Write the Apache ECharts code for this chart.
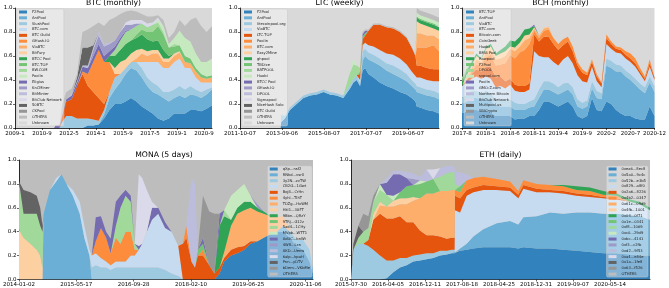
<!DOCTYPE html>
<html>
<head>
<meta charset="utf-8">
<title>Mining pool shares</title>
<script src="https://cdn.jsdelivr.net/npm/echarts@6.0.0/dist/echarts.min.js"></script>
<style>
html, body { margin: 0; padding: 0; background: #fff; }
#main { width: 669px; height: 288px; }
</style>
</head>
<body>
<div id="main"></div>
<script>
// tab20c, one colour per legend slot (last slot = the layer that fills up to 1.0)
var tab20c = ['#3182bd', '#6baed6', '#9ecae1', '#c6dbef', '#e6550d', '#fd8d3c', '#fdae6b', '#fdd0a2',
	'#31a354', '#74c476', '#a1d99b', '#c7e9c0', '#756bb1', '#9e9ac8', '#bcbddc', '#dadaeb',
	'#636363', '#969696', '#bdbdbd', '#d9d9d9'];

// ---------------- BTC (monthly) : x = months since 2009-1 ----------------
var btcTicks = ['2009-1', '2010-9', '2012-5', '2014-1', '2015-9', '2017-5', '2019-1', '2020-9'];
var btcX = [0, 29, 30, 33, 35, 38, 42, 46, 50, 54, 58, 62, 66, 70, 74, 78, 82, 86, 90, 94, 98, 102, 106, 110, 114, 118, 122, 126, 130, 134, 138, 142, 146];
var btcNames = ['F2Pool', 'AntPool', 'SlushPool', 'BTC.com', 'BTC Guild', 'GHash.IO', 'ViaBTC', 'BitFury', 'BTCC Pool', 'BTC.TOP',
	'BW.COM', 'Poolin', 'Eligius', 'KnCMiner', 'BitMinter', 'BitClub Network', '50BTC', 'CKPool', 'OTHERS', 'Unknown'];
var btcShares = [
	[[54,.02],[58,.02],[62,.03],[66,.08],[70,.15],[74,.2],[78,.2],[82,.22],[86,.25],[90,.22],[94,.18],[98,.15],[102,.12],[106,.08],[110,.06],[114,.08],[118,.12],[122,.12],[126,.12],[130,.15],[134,.15],[138,.14],[142,.16],[146,.19]],
	[[66,.03],[70,.1],[74,.12],[78,.18],[82,.23],[86,.25],[90,.26],[94,.24],[98,.2],[102,.18],[106,.2],[110,.19],[114,.14],[118,.13],[122,.15],[126,.13],[130,.13],[134,.12],[138,.11],[142,.12],[146,.13]],
	[[35,.05],[38,.1],[42,.1],[46,.08],[50,.08],[54,.06],[58,.05],[62,.03],[66,.04],[70,.05],[74,.1],[78,.07],[82,.05],[86,.05],[90,.07],[94,.08],[98,.07],[102,.08],[106,.07],[110,.05],[114,.08],[118,.07],[122,.08],[126,.07],[130,.07],[134,.05],[138,.05],[142,.04],[146,.02]],
	[[94,.05],[98,.13],[102,.17],[106,.2],[110,.2],[114,.2],[118,.23],[122,.23],[126,.18],[130,.15],[134,.1],[138,.08],[142,.06],[146,.04]],
	[[35,.05],[38,.12],[42,.14],[46,.27],[50,.37],[54,.27],[58,.23],[62,.19],[66,.05]],
	[[50,.02],[54,.1],[58,.25],[62,.4],[66,.35],[70,.25],[74,.03]],
	[[90,.03],[94,.07],[98,.05],[102,.07],[106,.07],[110,.05],[114,.05],[118,.05],[122,.05],[126,.05],[130,.04],[134,.05],[138,.04],[142,.03],[146,.04]],
	[[74,.05],[78,.1],[82,.07],[86,.07],[90,.07],[94,.04],[98,.04],[102,.03],[106,.03],[110,.03],[114,.03],[118,.02],[122,.01]],
	[[70,.05],[74,.1],[78,.1],[82,.13],[86,.11],[90,.1],[94,.12],[98,.1],[102,.07],[106,.08],[110,.07],[114,.02]],
	[[90,.03],[94,.04],[98,.06],[102,.08],[106,.12],[110,.13],[114,.07],[118,.06],[122,.05],[126,.05],[130,.04],[134,.03],[138,.03],[142,.02],[146,.02]],
	[[74,.05],[78,.08],[82,.1],[86,.09],[90,.07],[94,.05],[98,.04],[102,.06],[106,.03],[110,.02],[118,.02]],
	[[106,.02],[110,.05],[114,.03],[118,.05],[122,.12],[126,.15],[130,.14],[134,.12],[138,.1],[142,.12],[146,.14]],
	[[30,.02],[33,.02],[35,.01],[38,.02],[42,.03],[46,.03],[50,.04],[54,.05],[58,.05],[62,.05],[66,.05],[70,.04],[74,.03],[78,.02],[82,.01]],
	[[58,.05],[62,.07],[66,.08],[70,.06],[74,.05],[78,.05],[82,.05],[86,.04],[90,.02]],
	[[42,.01],[46,.01],[50,.01],[54,.02],[58,.02],[62,.03],[66,.02],[70,.01]],
	[[82,.02],[86,.04],[90,.03],[94,.03],[98,.03],[102,.02],[106,.02]],
	[[46,.03],[50,.15],[54,.15],[58,.02]],
	[],
	[[35,.09],[38,.06],[42,.05],[46,.03],[50,.13],[54,.15],[58,.16],[62,.08],[66,.15],[70,.19],[74,.19],[78,.15],[82,.09],[86,.08],[90,.07],[94,.05],[98,.06],[102,.05],[106,.02],[110,.05],[114,.05],[118,.05],[122,.09],[126,.1],[130,.18],[134,.3],[138,.3],[142,.25],[146,.27]],
	[]
];

// ---------------- LTC (weekly) : x = weeks since 2011-10-07 ----------------
var ltcTicks = ['2011-10-07', '2013-09-06', '2015-08-07', '2017-07-07', '2019-06-07'];
var ltcX = [0, 97, 98, 107, 119, 135, 151, 167, 183, 199, 214, 230, 246, 262, 270, 278, 286, 292, 298, 306, 318, 333, 349, 365, 381, 397, 409, 418, 421, 429, 445, 461, 474];
var ltcNames = ['F2Pool', 'AntPool', 'litecoinpool.org', 'ViaBTC', 'LTC.TOP', 'Poolin', 'BTC.com', 'Easy2Mine', 'ghpool', 'TBDice',
	'BATPOOL', 'Huobi', 'BTCC Pool', 'GHash.IO', 'DPOOL', 'Sigmapool', 'NiceHash Solo', 'BTC Guild', 'OTHERS', 'Unknown'];
var ltcShares = [
	[[98,.05],[107,.08],[119,.15],[135,.2],[151,.25],[167,.27],[183,.28],[199,.3],[214,.28],[230,.27],[246,.25],[262,.33],[270,.38],[278,.4],[286,.35],[292,.48],[298,.5],[306,.45],[318,.42],[333,.38],[349,.35],[365,.33],[381,.3],[397,.28],[409,.25],[418,.22],[421,.18],[429,.17],[445,.15],[461,.14],[474,.12]],
	[[292,.08],[298,.1],[306,.12],[318,.13],[333,.14],[349,.13],[365,.12],[381,.12],[397,.11],[409,.1],[418,.1],[421,.12],[429,.12],[445,.12],[461,.12],[474,.12]],
	[[98,.06],[107,.02],[119,.02],[135,.02],[151,.02],[167,.02],[183,.02],[199,.02],[214,.02],[230,.02],[246,.02],[262,.03],[270,.03],[278,.04],[286,.03],[292,.08],[298,.06],[306,.06],[318,.06],[333,.06],[349,.06],[365,.07],[381,.07],[397,.06],[409,.05],[418,.05],[421,.05],[429,.05],[445,.05],[461,.05],[474,.05]],
	[[286,.02],[292,.05],[298,.05],[306,.06],[318,.07],[333,.07],[349,.08],[365,.09],[381,.09],[397,.08],[409,.07],[418,.05],[421,.07],[429,.08],[445,.08],[461,.08],[474,.1]],
	[[286,.05],[292,.05],[298,.06],[306,.12],[318,.18],[333,.21],[349,.22],[365,.22],[381,.22],[397,.22],[409,.2],[418,.18],[421,.1],[429,.1],[445,.1],[461,.1],[474,.1]],
	[[421,.15],[429,.15],[445,.17],[461,.2],[474,.15]],
	[[421,.12],[429,.12],[445,.1],[461,.08],[474,.1]],
	[[421,.1],[429,.08],[445,.08],[461,.06],[474,.07]],
	[[421,.03],[429,.03],[445,.03],[461,.03],[474,.03]],
	[[286,.02],[292,.02],[298,.02],[421,.01],[429,.01],[445,.01],[461,.01],[474,.01]],
	[[262,.1],[270,.12],[278,.08],[286,.03]],
	[[270,.05],[421,.03],[429,.03],[445,.03],[461,.03],[474,.03]],
	[[292,.02],[298,.02]],
	[[292,.01]],
	[], [], [], [],
	[[292,.01],[298,.01],[306,.01],[318,.01],[333,.01],[349,.01],[365,.01],[381,.01],[397,.01],[409,.01],[418,.01],[421,.04],[429,.04],[445,.04],[461,.04],[474,.04]],
	[]
];

// ---------------- BCH (monthly) : x = months since 2017-8 ----------------
var bchTicks = ['2017-8', '2018-1', '2018-6', '2018-11', '2019-4', '2019-9', '2020-2', '2020-7', '2020-12'];
var bchX = [0, 1, 2, 3, 4, 5, 6, 7, 8, 9, 10, 11, 12, 13, 14, 15, 16, 17, 18, 19, 20, 21, 22, 23, 24, 25, 26, 27, 28, 29, 30, 31, 32, 33, 34, 35, 36, 37, 38, 39, 40];
var bchNames = ['BTC.TOP', 'AntPool', 'ViaBTC', 'BTC.com', 'Bitcoin.com', 'CoinGeek', 'Huobi', 'BMG Pool', 'Rawpool', 'F2Pool',
	'DPOOL', 'svpool.com', 'Poolin', 'GMO-Z.com', 'Northern Bitcoin', 'BitClub Network', 'Multipool.us', 'SBICrypto', 'OTHERS', 'Unknown'];
var bchShares = [
	[.12,.14,.15,.15,.14,.15,.13,.10,.10,.10,.10,.07,.08,.08,.10,.10,.15,.22,.22,.20,.18,.20,.22,.18,.10,.08,.10,.25,.15,.14,.22,.20,.15,.12,.10,.10,.08,.07,.07,.18,.10],
	[.08,.08,.10,.10,.10,.10,.10,.09,.08,.08,.08,.08,.07,.07,.07,.08,.10,.10,.10,.10,.10,.10,.10,.10,.08,.08,.08,.08,.10,.10,.30,.30,.32,.35,.33,.30,.28,.25,.22,.20,.20],
	[.05,.06,.06,.06,.05,.06,.06,.05,.05,.05,.06,.06,.05,.05,.05,.06,.07,.07,.07,.07,.06,.07,.06,.06,.06,.05,.05,.06,.06,.05,.06,.06,.06,.05,.05,.05,.05,.05,.05,.05,.05],
	[.10,.10,.10,.12,.12,.12,.12,.10,.12,.10,.12,.10,.10,.10,.10,.40,.28,.20,.20,.18,.18,.20,.22,.20,.20,.18,.15,.12,.08,.05,.12,.10,.10,.10,.10,.10,.10,.08,.05,.08,.05],
	[0,.02,.04,.06,.06,.08,.10,.08,.08,.06,.05,.05,.05,.05,.05,.14,.12,.17,.17,.15,.13,.12,.12,.10,.08,.07,.06,.04,.04,.03,.05,.04,.03,.03,.03,.03,.03,.02,.02,.03,.02],
	[0,0,.02,.04,.05,.08,.10,.10,.10,.15,.20,.22,.28,.30,.33,.03,.03,.05,.06,.05,.05,.05,.04,.04,.03,.03,.02,.02,.02,.01,.03,.02,.02,.02,.03,.04,.04,.03,.02,.03,0],
	[[1,.02],[2,.03],[3,.04],[4,.03],[5,.04],[6,.04],[7,.05],[8,.05],[9,.06],[10,.05],[11,.06],[12,.05],[13,.08],[14,.05],[15,.02],[16,.02],[17,.02],[18,.02]],
	[[1,.02],[2,.02],[3,.03],[4,.02],[5,.03],[6,.03],[7,.03],[8,.04],[9,.04],[10,.02],[11,.03],[12,.03],[13,.04],[14,.03],[15,.01],[17,.01]],
	[[0,.03],[1,.04],[2,.03],[3,.02],[4,.01],[5,.02],[6,.02],[7,.02],[8,.03],[9,.04],[10,.05],[11,.05],[12,.05],[13,.05],[14,.05],[15,.01]],
	[[0,.02],[1,.01]],
	[[0,.02],[1,.01]],
	[],
	[[15,.01]],
	[], [], [], [], [], [], []
];

// ---------------- MONA (5 days) : x = 5-day steps since 2014-01-02 ----------------
var monaTicks = ['2014-01-02', '2015-05-17', '2016-09-28', '2018-02-10', '2019-06-25', '2020-11-06'];
var monaX = [0, 8, 20, 31, 37, 41, 43, 54, 65, 74, 83, 94, 106, 114, 123, 127, 134, 143, 152, 160, 169, 177, 186, 195, 202, 209, 215, 223, 232, 243,
	255, 266, 278, 286, 292, 301, 307, 312, 321, 332, 341, 350, 358, 370, 381, 393, 404, 416, 427, 439, 450, 461, 473, 484, 496, 507, 513];
var monaNames = ['qXp...nsf2', 'RNkd...vsrX', '3y2N...zvTW', 'CB2G...1Gwt', 'Bqj4...CrHn', '4yhl...TIhT', 'TDZg...HxWM', 'Hkl1...3AFT',
	'9Bbn...QRzY', '9TRj...G12z', '5ad4...1CHy', 'MVpb...WTT1', 'AdUC...bnWt', '4W8...Lxn', 'AKD...Uenw', '6alp...kpaH',
	'Pnn...yDTV', 'bDem...VKbMe', 'OTHERS'];
var monaShares = [
	[[350,.05],[358,.15],[370,.2],[381,.22],[393,.25],[404,.3],[416,.32],[427,.35],[439,.38],[450,.4],[461,.4],[473,.35],[484,.28],[496,.25],[507,.15],[513,.05]],
	[[43,.55],[54,.75],[65,.82],[74,.88],[83,.8],[94,.7],[106,.55],[114,.35],[123,.2],[461,.05],[473,.05],[484,.05],[496,.08],[507,.1],[513,.03]],
	[[127,.1],[134,.12],[143,.1],[152,.1],[160,.08],[169,.1],[177,.1],[186,.1],[195,.1],[202,.1],[209,.1],[215,.1],[223,.1],[232,.1],[243,.1],[255,.08],[266,.05],[278,.03]],
	[[65,.03],[94,.05],[106,.1],[114,.1],[123,.05],[127,.1],[134,.1],[143,.08],[152,.05],[160,.04],[169,.05],[177,.05],[186,.05],[195,.1],[202,.1],[209,.15],[215,.2],[223,.3],[232,.4],[243,.45],[255,.35],[266,.35],[278,.25]],
	[[286,.3],[292,.35],[301,.15],[307,.1],[312,.2],[321,.2],[332,.12],[341,.05],[350,.05],[358,.03],[370,.05],[381,.05],[393,.03],[404,.02]],
	[[134,.1],[143,.25],[152,.2],[160,.1],[169,.2],[177,.15],[186,.25],[195,.2],[202,.05],[292,.1],[321,.05]],
	[[358,.05],[370,.2],[381,.28],[393,.3],[404,.28],[416,.25],[427,.2],[439,.15],[450,.12],[461,.08]],
	[[0,.42],[8,.35],[20,.3],[31,.25],[37,.2],[41,.1]],
	[[350,.35],[358,.3],[370,.05],[381,.05],[393,.07],[404,.05],[416,.03],[427,.02]],
	[[312,.05],[321,.05]],
	[[0,.4],[8,.2],[20,.25],[31,.3],[37,.25],[41,.3],[169,.1],[177,.3],[186,.3],[195,.25],[202,.05],[358,.05]],
	[[370,.2],[381,.15],[393,.15],[404,.05]],
	[[134,.2],[143,.1],[152,.05],[160,.12],[169,.2],[177,.1],[186,.05],[195,.05],[209,.03],[232,.1],[243,.05],[255,.05],[321,.05],[350,.1]],
	[[416,.03]],
	[[301,.7],[307,.7]],
	[[209,.6],[215,.55],[223,.35],[232,.05]],
	[[8,.2],[20,.18],[31,.15],[37,.15],[41,.05]],
	[[321,.35],[332,.45],[341,.5]],
	[]
];

// ---------------- ETH (daily) : x = days since 2015-07-30 ----------------
var ethTicks = ['2015-07-30', '2016-04-05', '2016-12-11', '2017-08-18', '2018-04-25', '2018-12-31', '2019-09-07', '2020-05-14'];
var ethX = [0, 16, 50, 83, 117, 151, 196, 241, 286, 331, 376, 421, 466, 511, 556, 602, 647, 680, 700, 703, 737, 782, 827, 894, 985,
	1075, 1131, 1165, 1255, 1345, 1435, 1525, 1615, 1705, 1796, 1886, 1953, 2021];
var ethNames = ['0xea6...8ec8', '0x5a0...9c4c', '0x52b...e3b5', '0x829...a8f0', '0x2a6...8226', '0x4b2...0347', '0x61c...09d9', '0x4fb...1001',
	'0x04...0f71', '0x1e...0341', '0xf8...1069', '0xc0...29d9', '0xbc...4141', '0xf3...c2fb', '0xd2...9f53', '0xa4...e84e',
	'0x1a...1fe8', '0x63...f526', 'OTHERS'];
var ethShares = [
	[[241,.01],[286,.06],[331,.1],[376,.12],[421,.15],[466,.16],[511,.17],[556,.18],[602,.2],[647,.21],[680,.22],[700,.22],[703,.23],[737,.24],[782,.25],[827,.26],[894,.27],[985,.27],[1075,.27],[1131,.26],[1165,.27],[1255,.26],[1345,.26],[1435,.25],[1525,.24],[1615,.23],[1705,.22],[1796,.22],[1886,.21],[1953,.2],[2021,.2]],
	[[737,.02],[782,.05],[827,.1],[894,.15],[985,.2],[1075,.22],[1131,.2],[1165,.25],[1255,.27],[1345,.3],[1435,.3],[1525,.32],[1615,.33],[1705,.33],[1796,.33],[1886,.33],[1953,.33],[2021,.3]],
	[[16,.25],[50,.3],[83,.3],[117,.28],[151,.25],[196,.2],[241,.15],[286,.1],[331,.08],[376,.06],[421,.05],[466,.05],[511,.05],[556,.04],[602,.04],[647,.03],[680,.03],[700,.03]],
	[[703,.35],[737,.3],[782,.4],[827,.37],[894,.33],[985,.28],[1075,.25],[1131,.22],[1165,.24],[1255,.2],[1345,.17],[1435,.17],[1525,.14],[1615,.13],[1705,.13],[1796,.12],[1886,.11],[1953,.1],[2021,.08]],
	[[117,.05],[151,.25],[196,.35],[241,.35],[286,.35],[331,.35],[376,.3],[421,.28],[466,.2],[511,.15],[556,.15],[602,.12],[647,.1],[680,.1],[700,.1],[703,.12],[737,.12],[782,.05],[827,.04],[894,.04],[985,.03],[1075,.03],[1131,.03],[1165,.03],[1255,.03],[1345,.02],[1435,.02],[1525,.02],[1615,.02],[1705,.01],[1796,.01]],
	[[703,.05],[737,.05],[782,.08],[827,.08],[894,.07],[985,.06],[1075,.05],[1131,.03],[1165,.04],[1255,.04],[1345,.04],[1435,.04],[1525,.03],[1615,.03],[1705,.02],[1796,.02]],
	[[196,.07],[241,.1],[286,.1],[331,.1],[376,.15],[421,.18],[466,.27],[511,.35],[556,.35],[602,.38],[647,.4],[680,.4],[700,.4]],
	[[151,.05],[196,.03],[286,.05],[331,.05],[376,.05],[421,.03]],
	[[1435,.01],[1525,.03],[1615,.03],[1705,.03],[1796,.02],[1886,.02],[1953,.02],[2021,.02]],
	[[331,.05],[376,.1],[421,.1],[466,.12],[511,.1],[556,.12],[737,.05]],
	[[50,.05],[83,.1],[117,.1],[151,.1],[196,.1],[241,.1],[602,.12],[647,.15],[680,.15],[700,.15],[703,.05]],
	[[196,.05],[286,.04],[466,.03]],
	[[241,.1],[286,.18],[331,.15],[376,.07]],
	[[421,.05]],
	[[241,.04],[286,.03],[331,.03],[376,.05],[421,.05],[466,.03],[511,.1],[602,.07],[647,.06],[680,.05],[700,.05],[703,.1],[737,.12],[782,.05]],
	[[556,.08]],
	[[16,.05],[50,.1]],
	[[83,.15],[117,.1],[151,.05]],
	[]
];

// put a share list (plain values or [x, share] pairs) onto the chart's x grid.
// points are written as [share, x] so that the stack runs over the share dimension.
function onGrid(xs, vals) {
	if (vals.length && typeof vals[0] === 'number') {
		return xs.map(function (x, i) { return [vals[i], x]; });
	}
	var lookup = {};
	vals.forEach(function (p) { lookup[p[0]] = p[1]; });
	return xs.map(function (x) { return [lookup[x] || 0, x]; });
}

var charts = [
	{ key: 'btc', title: 'BTC (monthly)', xs: btcX, names: btcNames, shares: btcShares, ticks: btcTicks, step: 20, max: 146,
		box: [15, 8, 197, 120], legend: { left: 17, top: 9 }, titleTop: -1 },
	{ key: 'ltc', title: 'LTC (weekly)', xs: ltcX, names: ltcNames, shares: ltcShares, ticks: ltcTicks, step: 100, max: 474,
		box: [240, 8, 199, 120], legend: { left: 242, top: 9 }, titleTop: -1 },
	{ key: 'bch', title: 'BCH (monthly)', xs: bchX, names: bchNames, shares: bchShares, ticks: bchTicks, step: 5, max: 40,
		box: [462, 8, 197, 120], legend: { left: 464, top: 9 }, titleTop: -1 },
	{ key: 'mona', title: 'MONA (5 days)', xs: monaX, names: monaNames, shares: monaShares, ticks: monaTicks, step: 100, max: 513,
		box: [15, 160, 298, 120], legend: { right: 357, top: 166 }, titleTop: 151 },
	{ key: 'eth', title: 'ETH (daily)', xs: ethX, names: ethNames, shares: ethShares, ticks: ethTicks, step: 250, max: 2021,
		box: [351, 160, 299, 120], legend: { right: 21, top: 166 }, titleTop: 151 }
];

var font = 'DejaVu Sans';
var option = { animation: false, title: [], legend: [], grid: [], xAxis: [], yAxis: [], series: [] };

charts.forEach(function (c, ci) {
	var tickVals = c.ticks.map(function (t, i) { return i * c.step; });
	option.grid.push({
		left: c.box[0], top: c.box[1], width: c.box[2], height: c.box[3],
		show: true, backgroundColor: tab20c[c.names.length - 1], borderWidth: 0
	});
	option.title.push({
		text: c.title, left: c.box[0] + c.box[2] / 2, top: c.titleTop, textAlign: 'center', padding: 0,
		textStyle: { fontSize: 7.7, fontWeight: 'normal', color: '#000', fontFamily: font }
	});
	option.xAxis.push({
		type: 'value', gridIndex: ci, min: 0, max: c.max,
		axisLine: { show: true, onZero: false, lineStyle: { color: '#000', width: 0.8 } },
		axisTick: { show: true, length: 2, customValues: tickVals, lineStyle: { color: '#000', width: 0.6 } },
		axisLabel: {
			fontSize: 5.5, color: '#000', margin: 2.5, fontFamily: font, customValues: tickVals,
			formatter: function (v) { return c.ticks[Math.round(v / c.step)] || ''; }
		},
		splitLine: { show: false }
	});
	option.yAxis.push({
		type: 'value', gridIndex: ci, min: 0, max: 1, interval: 0.2,
		axisLine: { show: true, onZero: false, lineStyle: { color: '#000', width: 0.8 } },
		axisTick: { show: true, length: 2, lineStyle: { color: '#000', width: 0.6 } },
		axisLabel: { fontSize: 5.5, color: '#000', margin: 2.5, fontFamily: font, formatter: function (v) { return v.toFixed(1); } },
		splitLine: { show: false }
	});
	var lg = {
		orient: 'vertical', top: c.legend.top, icon: 'rect', itemWidth: 8, itemHeight: 3, itemGap: 1.84,
		padding: [1, 2, 1, 2], selectedMode: false,
		backgroundColor: 'rgba(255,255,255,0.4)', borderColor: '#c8c8c8', borderWidth: 0.5, borderRadius: 1.5,
		textStyle: { fontSize: 3.7, lineHeight: 4, color: '#222', fontFamily: font },
		formatter: function (n) { return n.split('|')[1]; },
		data: c.names.map(function (n, i) {
			return { name: c.key + '|' + n, itemStyle: { color: tab20c[i], borderWidth: 0 } };
		})
	};
	if (c.legend.left !== undefined) lg.left = c.legend.left; else lg.right = c.legend.right;
	option.legend.push(lg);

	c.names.forEach(function (n, i) {
		var vals = c.shares[i] || [];
		option.series.push({
			name: c.key + '|' + n, type: 'line', stack: c.key, xAxisIndex: ci, yAxisIndex: ci,
			encode: { x: 1, y: 0 },
			symbol: 'none', silent: true,
			lineStyle: { width: 0, color: tab20c[i] },
			itemStyle: { color: tab20c[i] },
			areaStyle: { color: tab20c[i], opacity: 1 },
			data: vals.length ? onGrid(c.xs, vals) : []
		});
	});
});

var chart = echarts.init(document.getElementById('main'));
chart.setOption(option);
</script>
</body>
</html>
